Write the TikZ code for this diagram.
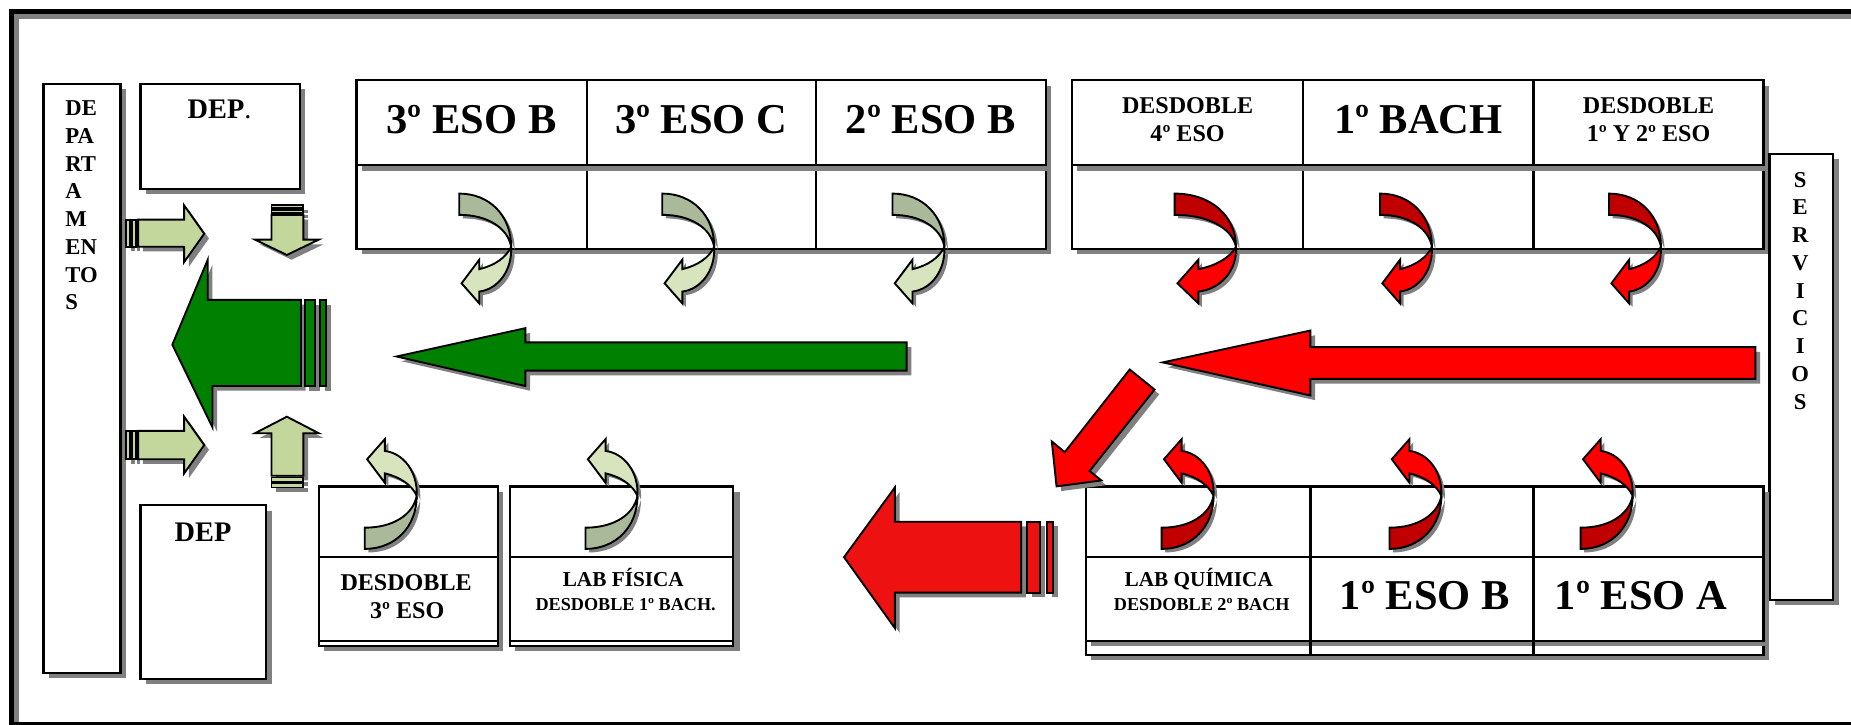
\documentclass[tikz,border=0pt]{standalone}
\usepackage{fontspec}
\setmainfont{Liberation Serif}
\definecolor{shadowgray}{HTML}{808080}
\definecolor{dkgreen}{HTML}{008000}
\definecolor{ltgreen}{HTML}{C3D69B}
\definecolor{cgdark}{HTML}{AAB99A}
\definecolor{cglight}{HTML}{D7E4BD}
\definecolor{crdark}{HTML}{C00000}
\definecolor{crlight}{HTML}{FF0000}
\definecolor{bigred}{HTML}{EE1111}
\newcommand\shrect[4]{%
  \fill[shadowgray] ({#1+4.5},{#2+4.5}) rectangle ({#3+4.5},{#4+4.5});
  \draw[boxline] (#1,#2) rectangle (#3,#4);}
\newcommand\shpath[2]{%
  \fill[shadowgray, shift={(4,4)}] #2;
  \filldraw[arrowline, fill=#1] #2;}
\newcommand\curvarr[6]{%
  \begin{scope}[shift={({#1+3},{#2+3})}, xscale=#3, yscale=#4]
    \fill[shadowgray] (-44,-45) .. controls (-18,-45) and (0,-26) .. (0,0)
       .. controls (-3,-16) and (-20,-27) .. (-44,-27) -- cycle;
    \fill[shadowgray] (0,0) .. controls (1,20) and (-11,36) .. (-27,38)
       -- (-27,48) -- (-42,31) -- (-27,11) -- (-27,19)
       .. controls (-14,16) and (-4,9) .. (0,0) -- cycle;
  \end{scope}
  \begin{scope}[shift={(#1,#2)}, xscale=#3, yscale=#4]
    \filldraw[arrowline, fill=#5] (-44,-45) .. controls (-18,-45) and (0,-26) .. (0,0)
       .. controls (-3,-16) and (-20,-27) .. (-44,-27) -- cycle;
    \filldraw[arrowline, fill=#6] (0,0) .. controls (1,20) and (-11,36) .. (-27,38)
       -- (-27,48) -- (-42,31) -- (-27,11) -- (-27,19)
       .. controls (-14,16) and (-4,9) .. (0,0) -- cycle;
  \end{scope}}
\begin{document}
\begin{tikzpicture}[x=0.5pt,y=-0.5pt,
  boxline/.style={draw=black, line width=1pt, fill=white},
  gridline/.style={draw=black, line width=1pt},
  arrowline/.style={draw=black, line width=0.8pt},
  bigtxt/.style={font=\fontsize{18}{21}\selectfont\bfseries, inner sep=0pt, anchor=base},
  midtxt/.style={font=\fontsize{10.2}{12}\selectfont\bfseries, inner sep=0pt, anchor=base},
  deptxt/.style={font=\fontsize{12}{14}\selectfont\bfseries, inner sep=0pt, anchor=base},
  vtxt/.style={font=\fontsize{9.6}{11.75}\selectfont\bfseries, inner sep=0pt, align=center},
  labtxt/.style={font=\fontsize{9}{10}\selectfont\bfseries, inner sep=0pt, anchor=base},
  subtxt/.style={font=\fontsize{7.7}{9}\selectfont\bfseries, inner sep=0pt, anchor=base}]
\useasboundingbox (0,0) rectangle (1568,614);
\fill[white] (0,0) rectangle (1568,614);
% frame
\fill[shadowgray] (12,12) rectangle (1568,16);
\fill[shadowgray] (12,12) rectangle (16,614);
\fill[black] (7.6,7.6) rectangle (1568,12);
\fill[black] (7.6,7.6) rectangle (12,614);
\fill[black] (7.6,611.6) rectangle (1568,614);

% left boxes
\shrect{37}{71}{102}{570}
\node[vtxt, anchor=north west, align=left] (departamentos) at (55,85) {DE\\PA\\RT\\A\\M\\EN\\TO\\S};
\shrect{119}{71}{254}{160}
\node[deptxt] (dep1) at (186,100) {DEP\textmd{.}};
\shrect{119}{428}{225.5}{575}
\node[deptxt] (dep2) at (172,459) {DEP};

% top-left table
\shrect{302}{140}{886}{211}
\draw[gridline] (497,140) -- (497,211) (691,140) -- (691,211);
\shrect{302}{68}{886}{140}
\draw[gridline] (497,68) -- (497,140) (691,68) -- (691,140);
\node[bigtxt] (eso3b) at (399.5,113) {3º ESO B};
\node[bigtxt] (eso3c) at (594,113) {3º ESO C};
\node[bigtxt] (eso2b) at (788.5,113) {2º ESO B};

% top-right table
\shrect{908}{140}{1494}{211}
\draw[gridline] (1104,140) -- (1104,211) (1299,140) -- (1299,211);
\shrect{908}{68}{1494}{140}
\draw[gridline] (1104,68) -- (1104,140) (1299,68) -- (1299,140);
\node[midtxt] (desd4a) at (1006,96) {DESDOBLE};
\node[midtxt] (desd4b) at (1006,120) {4º ESO};
\node[bigtxt] (bach1) at (1201.5,113) {1º BACH};
\node[midtxt] (desd12a) at (1396.5,96) {DESDOBLE};
\node[midtxt] (desd12b) at (1396.5,120) {1º Y 2º ESO};

% servicios
\shrect{1499}{130.5}{1553}{508}
\node[vtxt, anchor=north] (servicios) at (1525,145.5) {S\\E\\R\\V\\I\\C\\I\\O\\S};

% bottom-left boxes
\fill[shadowgray] (274.5,416.5) rectangle (426.5,551.5);
\draw[boxline] (270,412) rectangle (422,547);
\draw[boxline] (270,412) rectangle (422,543);
\draw[gridline] (270,472) -- (422,472);
\node[midtxt] (desd3a) at (344,500.5) {DESDOBLE};
\node[midtxt] (desd3b) at (345,524) {3º ESO};
\fill[shadowgray] (436.5,416.5) rectangle (626.5,551.5);
\draw[boxline] (432,412) rectangle (621,547);
\draw[boxline] (432,412) rectangle (621,543);
\draw[gridline] (432,472) -- (621,472);
\node[labtxt] (labfis) at (528,497) {LAB FÍSICA};
\node[subtxt] (labfisb) at (530,516.8) {DESDOBLE 1º BACH.};

% bottom-right table
\fill[shadowgray] (924.5,416.5) rectangle (1498.5,559.5);
\draw[boxline] (920,412) rectangle (1494,555);
\fill[shadowgray] (924.5,416.5) rectangle (1498.5,547.5);
\draw[boxline] (920,412) rectangle (1494,543);
\draw[gridline] (1110,412) -- (1110,555) (1299,412) -- (1299,555);
\draw[gridline] (920,472) -- (1494,472);
\node[labtxt] (labqui) at (1015.5,497) {LAB QUÍMICA};
\node[subtxt] (labquib) at (1018,516.8) {DESDOBLE 2º BACH};
\node[bigtxt] (eso1b) at (1207,516) {1º ESO B};
\node[bigtxt] (eso1a) at (1390,516) {1º ESO A};

% small light-green arrows
\shpath{ltgreen}{(107,186) rectangle (110,209)}
\shpath{ltgreen}{(112,186) rectangle (115,209)}
\shpath{ltgreen}{(117,186) -- (156,186) -- (156,174) -- (173,198) -- (156,222) -- (156,209) -- (117,209) -- cycle}
\shpath{ltgreen}{(107,365) rectangle (110,389)}
\shpath{ltgreen}{(112,365) rectangle (115,389)}
\shpath{ltgreen}{(117,365) -- (156,365) -- (156,353) -- (173,377) -- (156,401) -- (156,389) -- (117,389) -- cycle}
\shpath{ltgreen}{(230,174) rectangle (257,176.5)}
\shpath{ltgreen}{(230,178) rectangle (257,180.5)}
\shpath{ltgreen}{(230,182) -- (257,182) -- (257,203) -- (270,203) -- (243,216) -- (216,203) -- (230,203) -- cycle}
\shpath{ltgreen}{(243,353) -- (270,367) -- (257,367) -- (257,403) -- (230,403) -- (230,367) -- (216,367) -- cycle}
\shpath{ltgreen}{(230,404.5) rectangle (257,408)}
\shpath{ltgreen}{(230,409.5) rectangle (257,413)}

% big green arrow
\shpath{dkgreen}{(146,292) -- (176,220) -- (176,254) -- (255,254) -- (255,327) -- (180,327) -- (180,362) -- cycle}
\shpath{dkgreen}{(258,254) rectangle (267,327)}
\shpath{dkgreen}{(271,254) rectangle (276,327)}
% long green arrow
\shpath{dkgreen}{(336,302) -- (445,278) -- (445,290) -- (768,290) -- (768,314) -- (445,314) -- (445,327) -- cycle}
% long red arrow
\shpath{crlight}{(985,307) -- (1110,280) -- (1110,294) -- (1487,294) -- (1487,321) -- (1110,321) -- (1110,335) -- cycle}
% diagonal red arrow
\shpath{crlight}{(957,313) -- (978,330) -- (923,399) -- (933,407) -- (895,412) -- (891,374) -- (902,383) -- cycle}
% big red arrow
\shpath{bigred}{(715,472) -- (758,413) -- (758,442) -- (865,442) -- (865,502) -- (758,502) -- (758,532) -- cycle}
\shpath{bigred}{(870,442) rectangle (881,502)}
\shpath{bigred}{(887,442) rectangle (892,502)}

% curved arrows
\curvarr{433}{209}{1}{1}{cgdark}{cglight}
\curvarr{605}{209}{1}{1}{cgdark}{cglight}
\curvarr{800}{209}{1}{1}{cgdark}{cglight}
\curvarr{1047}{209}{1.18}{1}{crdark}{crlight}
\curvarr{1213}{209}{1}{1}{crdark}{crlight}
\curvarr{1407}{209}{1}{1}{crdark}{crlight}
\curvarr{353}{420}{1}{-1}{cgdark}{cglight}
\curvarr{540}{420}{1}{-1}{cgdark}{cglight}
\curvarr{1028}{420}{1}{-1}{crdark}{crlight}
\curvarr{1221}{420}{1}{-1}{crdark}{crlight}
\curvarr{1383}{420}{1}{-1}{crdark}{crlight}
\end{tikzpicture}
\end{document}
